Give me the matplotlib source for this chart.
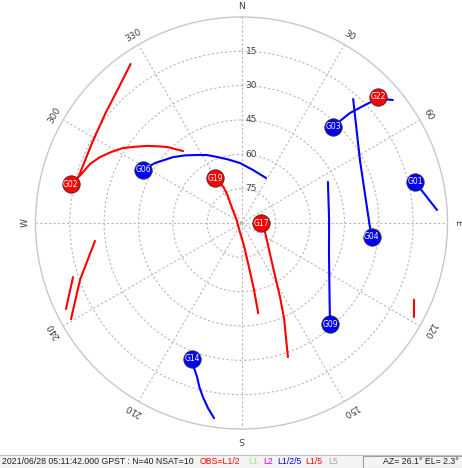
import numpy as np
import matplotlib
matplotlib.use('Agg')
import matplotlib.pyplot as plt
from matplotlib.patches import Rectangle
from matplotlib.lines import Line2D

# Current satellite positions (azimuth / elevation in degrees)
sat_ids = ['G01', 'G02', 'G03', 'G04', 'G06', 'G09', 'G14', 'G17', 'G19', 'G22']
sat_az = [76.7, 282.8, 43.5, 96.1, 298.4, 138.8, 200.0, 90.0, 329.5, 47.3]
sat_el = [12.1, 13.4, 31.9, 32.7, 41.3, 31.3, 26.8, 81.5, 67.2, 8.8]
sat_color = ['blue', 'red', 'blue', 'blue', 'blue', 'blue', 'blue', 'red', 'red', 'red']

# Satellite tracks over the plotted period
g01_az = [76.7, 86.2]
g01_el = [12.1, 4.4]
g02_az = [325.1, 317.7, 309.0, 298.5, 285.8, 282.8]
g02_el = [5.3, 10.2, 13.6, 15.9, 16.0, 13.4]
g02b_az = [282.8, 286.6, 291.3, 295.0, 298.5, 302.3, 305.6, 309.2, 312.2, 315.6, 318.0, 320.9]
g02b_el = [13.4, 16.6, 19.0, 21.8, 25.1, 28.7, 32.8, 36.7, 40.1, 43.5, 46.5, 49.5]
g03_az = [43.5, 44.6, 46.1, 47.6, 50.9]
g03_el = [31.9, 22.5, 16.3, 9.3, 4.8]
g04_az = [42.0, 62.0, 92.2, 96.1]
g04_el = [17.1, 31.4, 33.8, 32.7]
g06_az = [298.3, 304.7, 313.9, 320.1, 326.8, 333.1, 339.6, 348.0, 358.6, 12.2, 28.6]
g06_el = [41.1, 44.0, 48.5, 51.5, 54.5, 56.7, 59.2, 61.6, 63.8, 66.3, 67.6]
g09_az = [64.6, 88.0, 108.9, 127.3, 138.8]
g09_el = [48.2, 51.7, 49.6, 41.7, 31.3]
g14_az = [200.0, 198.1, 196.1, 194.4, 192.5, 190.3, 188.0]
g14_el = [26.8, 23.3, 20.0, 16.0, 12.1, 7.9, 3.9]
g17_az = [90.0, 111.0, 144.4, 152.5, 155.9, 160.9]
g17_el = [81.5, 79.0, 66.4, 53.6, 44.5, 28.0]
g19_az = [329.5, 333.4, 333.4, 327.7, 302.0, 197.4, 174.0, 170.2, 169.4, 169.5]
g19_el = [67.2, 72.3, 76.3, 82.2, 87.5, 86.8, 80.3, 69.2, 60.2, 49.9]
west1_az = [263.0, 250.6, 240.6]
west1_el = [25.5, 15.2, 4.5]
west2_az = [252.2, 243.9]
west2_el = [12.7, 4.6]
east_az = [114.0, 118.6]
east_el = [7.5, 4.2]

tracks = [
    (g01_az, g01_el, 'blue'), (g02_az, g02_el, 'red'), (g02b_az, g02b_el, 'red'),
    (g03_az, g03_el, 'blue'), (g04_az, g04_el, 'blue'), (g06_az, g06_el, 'blue'),
    (g09_az, g09_el, 'blue'), (g14_az, g14_el, 'blue'), (g17_az, g17_el, 'red'),
    (g19_az, g19_el, 'red'), (west1_az, west1_el, 'red'), (west2_az, west2_el, 'red'),
    (east_az, east_el, 'red'),
]

el_rings = [15, 30, 45, 60, 75]
az_ticks = [0, 30, 60, 90, 120, 150, 180, 210, 240, 270, 300, 330]
az_labels = ['N', '30', '60', 'E', '120', '150', 'S', '210', '240', 'W', '300', '330']

status_parts = ['2021/06/28 05:11:42.000 GPST : N=40 NSAT=10', 'OBS=L1/2', 'L1', 'L2',
                'L1/2/5', 'L1/5', 'L5']
status_colors = ['#202020', '#ff0000', '#a0e0a0', '#e000e0', '#0000ff', '#ff0000', '#a0a0a0']
status_x = [2, 200, 248, 263, 277, 305, 328]
cursor_text = 'AZ= 26.1\u00b0 EL= 2.3\u00b0'

W, H = 462, 468
fig = plt.figure(figsize=(W / 100, H / 100), dpi=100)
fig.patch.set_facecolor('white')

# polar axes: r = 90 - elevation, north up, clockwise
cx, cy, R = 241.5, 245, 206
ax = fig.add_axes([(cx - R) / W, (cy - R) / H, 2 * R / W, 2 * R / H], projection='polar')
ax.set_theta_zero_location('N')
ax.set_theta_direction(-1)
ax.set_ylim(0, 90)
ax.set_yticks([90 - e for e in el_rings])
ax.set_yticklabels([])
ax.set_xticks(np.deg2rad(az_ticks))
ax.set_xticklabels([])
ax.grid(True, color='#b8b8b8', linestyle=(0, (2, 2)), linewidth=0.8)
ax.spines['polar'].set_color('#c8c8c8')
ax.spines['polar'].set_linewidth(1.0)
ax.tick_params(length=0)

# azimuth labels, rotated along the rim
for az, lab in zip(az_ticks, az_labels):
    ax.text(np.deg2rad(az), 94.5, lab, ha='center', va='center', fontsize=6.5,
            color='#404040', rotation=-az, rotation_mode='anchor', clip_on=False)

# elevation labels on the north line
for e in el_rings:
    ax.annotate(str(e), (0, 90 - e), xytext=(3, 0), textcoords='offset points',
                ha='left', va='center', fontsize=6.5, color='#404040')

for az, el, col in tracks:
    ax.plot(np.deg2rad(az), 90 - np.array(el), color=col, lw=1.5, zorder=3,
            solid_capstyle='round', solid_joinstyle='round')

for sid, az, el, col in zip(sat_ids, sat_az, sat_el, sat_color):
    ax.plot(np.deg2rad(az), 90 - el, 'o', ms=12.5, mfc=col, mec='#303030', mew=0.6,
            zorder=4, clip_on=False)
    ax.text(np.deg2rad(az), 90 - el, sid, color='white', fontsize=5.5,
            ha='center', va='center', zorder=5)

# status bar
bar_h = 13
fig.add_artist(Rectangle((0, 0), 1, bar_h / H, transform=fig.transFigure,
                         facecolor='#f4f4f4', edgecolor='none'))
fig.add_artist(Line2D([0, 1], [bar_h / H, bar_h / H], transform=fig.transFigure,
                      color='#c0c0c0', lw=0.8))
fig.add_artist(Rectangle((363 / W, 0.5 / H), 1, (bar_h - 1.5) / H, transform=fig.transFigure,
                         facecolor='#f4f4f4', edgecolor='#a0a0a0', lw=0.8))
for s, c, x in zip(status_parts, status_colors, status_x):
    fig.text(x / W, 6.5 / H, s, color=c, fontsize=6.3, family='Liberation Sans',
             ha='left', va='center')
fig.text(383 / W, 6.5 / H, cursor_text, color='#202020', fontsize=6.3,
         family='Liberation Sans', ha='left', va='center')

fig.savefig('out.png', dpi=100)
